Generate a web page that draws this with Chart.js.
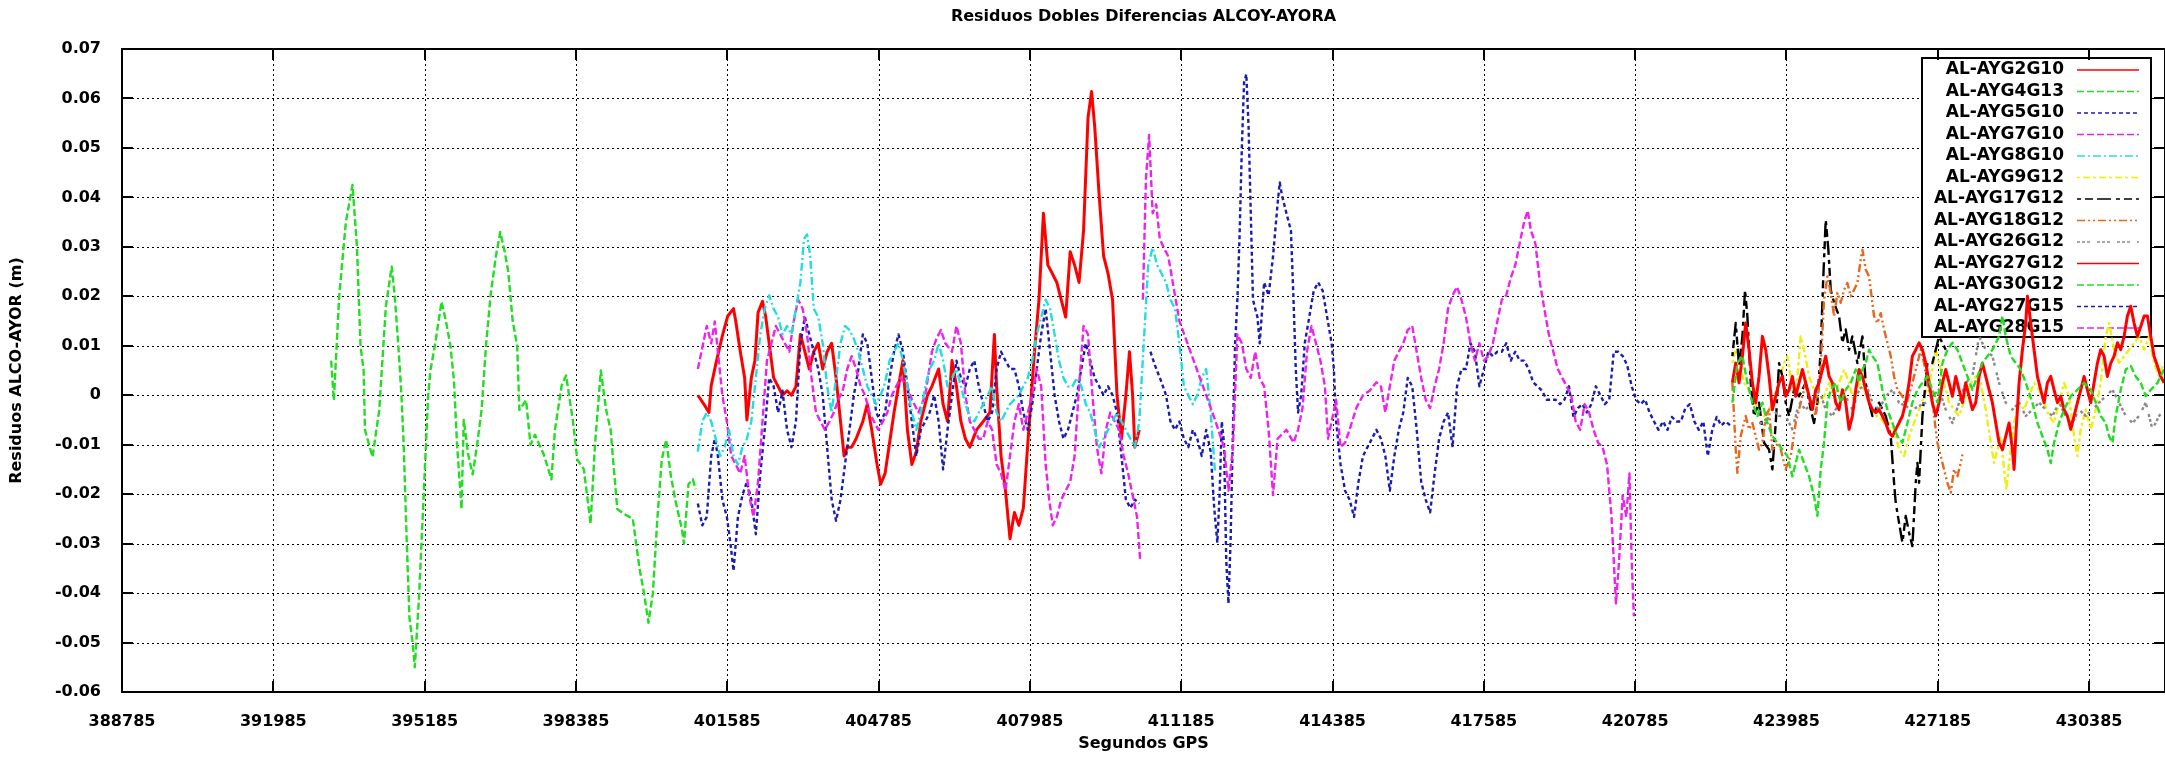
<!DOCTYPE html>
<html><head><meta charset="utf-8">
<script src="https://cdn.jsdelivr.net/npm/chart.js@4.4.1/dist/chart.umd.min.js"></script>
<style>html,body{margin:0;background:#fff}#wrap{width:2165px;height:763px;position:relative}</style>
</head><body><div id="wrap"><canvas id="c"></canvas></div>
<script>
/* residuos dobles diferencias — gnuplot look-alike */
const TITLE='Residuos Dobles Diferencias ALCOY-AYORA';
const X_TITLE='Segundos GPS', Y_TITLE='Residuos ALCO-AYOR (m)';
const X_TICKS=[388785,391985,395185,398385,401585,404785,407985,411185,414385,417585,420785,423985,427185,430385];
const Y_TICKS=[-0.06,-0.05,-0.04,-0.03,-0.02,-0.01,0,0.01,0.02,0.03,0.04,0.05,0.06,0.07];
const X_MIN=388785,X_MAX=431990,Y_MIN=-0.06,Y_MAX=0.07;
const LABELS=['AL-AYG2G10','AL-AYG4G13','AL-AYG5G10','AL-AYG7G10','AL-AYG8G10','AL-AYG9G12','AL-AYG17G12','AL-AYG18G12','AL-AYG26G12','AL-AYG27G12','AL-AYG30G12','AL-AYG27G15','AL-AYG28G15'];

// series, [seconds, residual m]
const g2g10=[[400963,0],[401104,-0.002],[401198,-0.0035],[401246,0.002],[401359,0.007],[401481,0.012],[401594,0.016],[401717,0.0175],[401764,0.015],[401858,0.009],[401953,0.0035],[402000,-0.005],[402094,0.0035],[402170,0.007],[402236,0.0167],[402330,0.019],[402396,0.016],[402471,0.0105],[402566,0.0035],[402660,0.0018],[402754,0],[402849,0.0009],[402943,0],[403037,0.0018],[403132,0.0123],[403226,0.0088],[403320,0.0053],[403414,0.0088],[403509,0.0105],[403603,0.0053],[403697,0.0088],[403792,0.0105],[403886,0.0035],[403980,-0.0053],[404056,-0.0123],[404122,-0.0105],[404216,-0.0105],[404310,-0.0088],[404452,-0.0053],[404546,-0.0018],[404640,-0.007],[404753,-0.014],[404829,-0.018],[404923,-0.0158],[405018,-0.0096],[405112,-0.0035],[405206,0.0018],[405300,0.007],[405395,-0.007],[405489,-0.014],[405583,-0.0114],[405678,-0.0053],[405819,0],[405913,0.0018],[406055,0.0053],[406149,-0.0018],[406243,-0.0053],[406338,0.007],[406432,0.0018],[406526,-0.0053],[406621,-0.0088],[406715,-0.0105],[406856,-0.007],[406998,-0.0053],[407139,-0.0035],[407234,0.0123],[407281,0.0018],[407375,-0.0123],[407469,-0.0193],[407564,-0.029],[407658,-0.0237],[407752,-0.0263],[407847,-0.0228],[407922,-0.0123],[407988,-0.0035],[408082,0.0088],[408177,0.0193],[408271,0.0368],[408365,0.0263],[408460,0.0246],[408554,0.0228],[408648,0.0193],[408742,0.0158],[408837,0.029],[408931,0.0263],[409025,0.0228],[409120,0.0333],[409214,0.0561],[409289,0.0614],[409355,0.0544],[409450,0.0404],[409544,0.0281],[409638,0.0246],[409733,0.0193],[409827,0],[409921,-0.0088],[410015,0],[410091,0.0088],[410157,0],[410204,-0.0105],[410298,-0.007]];
const g4g13=[[393208,0.007],[393265,-0.001],[393378,0.02],[393519,0.035],[393660,0.0425],[393754,0.03],[393829,0.01],[393895,0.005],[393923,-0.007],[394083,-0.0125],[394225,-0.003],[394366,0.018],[394488,0.026],[394554,0.02],[394629,0.01],[394695,0],[394742,-0.01],[394808,-0.03],[394864,-0.045],[394930,-0.05],[394977,-0.055],[395071,-0.04],[395118,-0.03],[395166,-0.02],[395213,-0.01],[395260,0],[395307,0.005],[395401,0.01],[395542,0.0189],[395636,0.015],[395730,0.01],[395805,0.003],[395871,-0.01],[395965,-0.023],[396012,-0.005],[396106,-0.012],[396201,-0.016],[396295,-0.01],[396389,-0.003],[396483,0.01],[396577,0.02],[396690,0.028],[396784,0.033],[396878,0.029],[396953,0.025],[397047,0.015],[397142,0.01],[397189,-0.003],[397330,-0.001],[397424,-0.01],[397518,-0.008],[397612,-0.01],[397706,-0.012],[397866,-0.017],[397941,-0.007],[398083,0.002],[398177,0.004],[398318,-0.005],[398412,-0.013],[398553,-0.015],[398694,-0.026],[398788,-0.01],[398911,0.005],[399024,-0.003],[399118,-0.007],[399259,-0.023],[399400,-0.024],[399588,-0.025],[399729,-0.035],[399824,-0.04],[399918,-0.046],[400012,-0.04],[400106,-0.025],[400200,-0.013],[400294,-0.009],[400388,-0.016],[400482,-0.021],[400623,-0.027],[400670,-0.03],[400764,-0.018],[400858,-0.017],[400915,-0.019]];
const g5g10=[[400963,-0.0219],[401057,-0.0263],[401151,-0.0246],[401246,-0.0123],[401321,-0.0088],[401387,-0.0123],[401481,-0.0211],[401576,-0.0246],[401651,-0.0298],[401717,-0.0355],[401811,-0.0246],[401906,-0.0202],[402000,-0.0175],[402094,-0.0211],[402189,-0.0281],[402283,-0.0158],[402377,-0.007],[402471,0.0035],[402566,0.0018],[402660,-0.0035],[402754,0.0009],[402849,-0.007],[402943,-0.0105],[403037,-0.0053],[403132,0.0105],[403226,0.0158],[403320,0.0123],[403414,0.0088],[403509,0.0053],[403603,0],[403697,-0.0105],[403792,-0.0211],[403886,-0.0254],[403980,-0.0211],[404075,-0.014],[404169,-0.007],[404263,0],[404357,0.0053],[404452,0.0123],[404546,0.0105],[404640,0.0035],[404735,-0.0035],[404829,-0.0053],[404923,-0.0035],[405018,0.0035],[405112,0.0088],[405206,0.0123],[405300,0.0088],[405395,0.0018],[405489,-0.0053],[405583,-0.0123],[405678,-0.007],[405772,-0.0053],[405866,-0.0035],[405961,0],[406055,-0.0053],[406149,-0.015],[406243,-0.007],[406338,0],[406432,0.007],[406526,0.0035],[406621,0.0018],[406715,0.0053],[406809,0.007],[406904,0.0018],[406998,-0.0018],[407092,-0.0053],[407186,-0.0035],[407281,0.0053],[407375,0.0088],[407469,0.007],[407564,0.0053],[407658,0.0053],[407752,0.0018],[407847,-0.0035],[407941,-0.007],[408035,-0.0018],[408130,0.0053],[408224,0.0123],[408318,0.0175],[408412,0.0088],[408507,0],[408601,-0.0053],[408695,-0.0088],[408790,-0.007],[408884,-0.0035],[408978,0],[409072,0.0053],[409167,0.0105],[409261,0.007],[409355,0.0035],[409450,0.0018],[409544,0],[409638,0.0018],[409733,0],[409827,-0.0035],[409921,-0.0123],[410015,-0.0211],[410110,-0.0228],[410204,-0.0211],[410298,-0.0219]];
const g7g10=[[400963,0.0053],[401076,0.0105],[401151,0.014],[401246,0.0105],[401321,0.0149],[401387,0.0088],[401481,0],[401576,-0.0053],[401670,-0.0123],[401764,-0.014],[401858,-0.0158],[401953,-0.0123],[402047,-0.0202],[402141,-0.0246],[402236,-0.0175],[402330,-0.0053],[402424,0.007],[402519,0.0105],[402613,0.014],[402707,0.0123],[402802,0.0105],[402896,0.0088],[402990,0.0149],[403085,0.0193],[403179,0.0175],[403273,0.0123],[403367,0.0035],[403462,-0.0035],[403556,-0.0053],[403650,-0.007],[403745,-0.0053],[403839,-0.0035],[403933,-0.0009],[404027,0.0009],[404122,0.0053],[404216,0.0079],[404310,0.0053],[404405,0.0018],[404499,0],[404593,-0.0035],[404687,-0.0053],[404782,-0.007],[404876,-0.0053],[404970,-0.0035],[405065,0],[405159,0.0018],[405253,0.0035],[405395,0.0018],[405489,-0.0009],[405630,-0.0035],[405772,0],[405913,0.0088],[406008,0.0114],[406102,0.0132],[406196,0.0105],[406338,0.0088],[406432,0.014],[406526,0.0105],[406621,0],[406715,-0.0053],[406809,-0.007],[406904,-0.0088],[406998,-0.0088],[407092,-0.0053],[407186,-0.007],[407281,-0.014],[407375,-0.0158],[407469,-0.0193],[407564,-0.0123],[407658,-0.0053],[407752,-0.0018],[407847,-0.007],[407941,-0.0035],[408035,0],[408130,0.0053],[408224,0.0018],[408318,-0.014],[408393,-0.0211],[408469,-0.0263],[408554,-0.0246],[408648,-0.0211],[408742,-0.0193],[408837,-0.0175],[408931,-0.0123],[409025,0.0018],[409120,0.014],[409214,0.0123],[409308,0],[409402,-0.0105],[409497,-0.0158],[409591,-0.007],[409685,-0.0035],[409780,-0.0053],[409874,-0.007],[409968,-0.0123],[410063,-0.0158],[410157,-0.0202],[410251,-0.0246],[410317,-0.0333]];
const g8g10=[[400963,-0.0114],[401057,-0.0053],[401151,-0.0035],[401246,-0.0053],[401340,-0.0088],[401434,-0.0123],[401528,-0.0105],[401623,-0.007],[401717,-0.0123],[401811,-0.014],[401906,-0.0105],[402000,-0.0088],[402094,-0.0053],[402189,0.0035],[402283,0.0123],[402377,0.0175],[402471,0.0202],[402566,0.0175],[402660,0.0158],[402754,0.0123],[402849,0.014],[402943,0.0123],[403037,0.0175],[403132,0.0228],[403207,0.0316],[403273,0.0325],[403339,0.0281],[403414,0.0175],[403509,0.0158],[403603,0.0105],[403697,0.0018],[403792,-0.0035],[403886,0.0035],[403980,0.0105],[404075,0.014],[404169,0.0132],[404263,0.0114],[404357,0.0088],[404452,0.0053],[404546,0.0018],[404640,0],[404735,-0.0018],[404829,0],[404923,0.0026],[405018,0.007],[405112,0.0088],[405206,0.0105],[405300,0.007],[405395,0.0018],[405489,-0.0035],[405583,-0.007],[405678,-0.0035],[405772,0.0018],[405866,0.0053],[405961,0.007],[406055,0.0105],[406149,0.007],[406243,0.0018],[406338,0.0035],[406432,0.0053],[406526,0.0018],[406621,-0.0018],[406715,-0.0044],[406809,-0.0053],[406904,-0.0035],[406998,-0.0018],[407092,0],[407186,0.0018],[407281,-0.0035],[407375,-0.0053],[407469,-0.0035],[407564,-0.0018],[407658,-0.0009],[407752,0],[407847,0.0018],[407941,0.0035],[408035,0.007],[408130,0.0123],[408224,0.0158],[408318,0.0193],[408412,0.0175],[408507,0.0123],[408601,0.007],[408695,0.0035],[408790,0.0018],[408884,0.0018],[408978,0.0035],[409072,0.0018],[409167,-0.0018],[409261,-0.0035],[409355,-0.007],[409450,-0.0105],[409544,-0.0088],[409638,-0.007],[409733,-0.0053],[409827,-0.0035],[409921,-0.0053],[410015,-0.007],[410110,-0.0088],[410204,-0.0105],[410298,-0.0053],[410393,0.0105],[410487,0.0263],[410581,0.0298],[410676,0.0263],[410770,0.0246],[410864,0.0228],[410958,0.0193],[411053,0.0175],[411147,0.0105],[411241,0.0018],[411336,0],[411430,-0.0018],[411524,0],[411619,0.0035],[411713,0.0053],[411808,-0.0035],[411901,-0.0158]];
const g9g12=[[422841,0.0065],[422912,0.0092],[422982,0.0079],[423088,0.0025],[423194,0.0011],[423299,-0.0015],[423405,-0.0029],[423511,-0.0042],[423617,-0.0029],[423722,-0.0002],[423828,0.0025],[423934,0.0065],[424004,0.0079],[424075,0.0038],[424181,-0.0002],[424286,0.0119],[424357,0.0092],[424463,0.0038],[424568,0.0011],[424674,-0.0015],[424780,-0.0002],[424886,0.0025],[424991,-0.0002],[425097,0.0025],[425203,0.0052],[425309,0.0025],[425414,-0.0015],[425520,0.0025],[425626,0.0011],[425732,-0.0015],[425837,-0.0042],[425943,-0.0042],[426049,-0.0056],[426155,-0.0056],[426260,-0.0069],[426366,-0.011],[426472,-0.0123],[426578,-0.0083],[426683,-0.0056],[426789,-0.0029],[426895,-0.0002],[427001,0.0025],[427071,0.0052],[427142,0.0092],[427212,0.0065],[427318,0.0025],[427424,-0.0015],[427529,-0.0029],[427635,-0.0042],[427776,-0.0002],[427882,0.0025],[427988,0.0038],[428093,0.0025],[428199,-0.0029],[428305,-0.0096],[428375,-0.0137],[428446,-0.011],[428516,-0.0083],[428587,-0.015],[428636,-0.0191],[428693,-0.0137],[428798,-0.0056],[428904,-0.0015],[429010,-0.0029],[429116,-0.0002],[429221,0.0025],[429327,0.0011],[429433,-0.0015],[429539,-0.0042],[429644,-0.0056],[429750,-0.0015],[429856,0.0025],[429962,-0.0002],[430067,-0.0083],[430138,-0.0123],[430208,-0.0069],[430314,-0.0029],[430420,-0.0069],[430526,-0.0029],[430631,0.0025],[430737,0.0119],[430808,0.0146],[430913,0.0092],[431019,0.0065],[431125,0.0079],[431231,0.0092],[431336,0.0106],[431442,0.0119],[431548,0.0092],[431654,0.0119],[431759,0.0065],[431865,0.0038],[431971,0.0065]];
const g17g12=[[422841,0.0079],[422912,0.0146],[422982,0.0059],[423053,0.0119],[423109,0.0213],[423158,0.016],[423229,0.0025],[423299,-0.0042],[423405,-0.0015],[423511,-0.0096],[423617,-0.011],[423687,-0.015],[423758,-0.0056],[423828,0.0065],[423899,0.0038],[423969,-0.0015],[424040,-0.0042],[424145,0.0011],[424251,-0.0002],[424392,0.0025],[424498,-0.0029],[424568,-0.0056],[424639,-0.0015],[424709,0.0092],[424759,0.0227],[424815,0.0355],[424871,0.0294],[424921,0.0213],[424991,0.0187],[425097,0.016],[425168,0.0106],[425238,0.0133],[425309,0.0092],[425379,0.0119],[425485,0.0065],[425591,0.0119],[425661,0.0025],[425732,-0.0015],[425802,-0.0042],[425943,-0.0015],[426084,-0.0042],[426190,-0.0083],[426260,-0.0177],[426296,-0.0218],[426366,-0.0258],[426437,-0.0298],[426507,-0.0244],[426578,-0.0278],[426648,-0.0305],[426719,-0.0177],[426754,-0.0137],[426789,-0.0177],[426860,-0.0042],[426965,0.0065],[427071,0.0065],[427142,0.0092],[427212,0.0119],[427353,0.0092]];
const g18g12=[[422841,0.0025],[422912,-0.011],[422947,-0.0157],[423017,-0.0083],[423123,-0.0042],[423194,-0.0069],[423264,-0.0056],[423335,-0.0083],[423405,-0.011],[423476,-0.0096],[423546,-0.0042],[423617,-0.0029],[423687,-0.011],[423828,-0.0096],[423969,-0.015],[424075,-0.0123],[424181,-0.0056],[424286,-0.0015],[424392,0.0025],[424498,-0.0015],[424604,-0.0042],[424709,0.0059],[424780,0.0193],[424850,0.024],[424921,0.0207],[424991,0.016],[425062,0.0207],[425132,0.0187],[425203,0.0213],[425273,0.0227],[425344,0.02],[425414,0.0213],[425485,0.0227],[425555,0.0274],[425591,0.0294],[425661,0.0254],[425732,0.024],[425767,0.0213],[425837,0.016],[425908,0.0146],[425978,0.0166],[426049,0.0133],[426119,0.0106],[426190,0.0079],[426260,0.0038],[426331,0.0011],[426437,-0.0002],[426507,-0.0022],[426648,0.0025],[426754,0.0065],[426824,0.0092],[426895,0.0065],[426965,0.0025],[427071,-0.0015],[427177,-0.0096],[427247,-0.0123],[427318,-0.015],[427388,-0.0177],[427459,-0.0197],[427529,-0.015],[427600,-0.0164],[427670,-0.0137],[427706,-0.012]];
const g26g12=[[423405,-0.0056],[423546,-0.0056],[423687,-0.0029],[423828,-0.0042],[423969,-0.0042],[424110,-0.0069],[424251,-0.0015],[424392,-0.0029],[424533,-0.0015],[424674,0.0011],[424815,-0.0029],[424956,-0.0042],[425097,-0.0015],[425238,-0.0002],[425379,-0.0029],[425520,0.0011],[425661,0.0025],[425802,-0.0015],[425943,-0.0029],[426084,-0.0002],[426225,0.0011],[426366,-0.0015],[426648,-0.0029],[426930,-0.0015],[427212,0.0011],[427353,-0.0029],[427494,-0.0056],[427635,-0.0015],[427776,0.0025],[427917,0.0038],[428058,0.0119],[428199,0.0092],[428340,0.0079],[428481,0.0025],[428622,-0.0015],[428763,-0.0029],[428904,-0.0015],[429045,-0.0042],[429186,-0.0029],[429327,-0.0015],[429468,-0.0029],[429609,-0.0042],[429750,-0.0015],[429891,-0.0042],[430032,-0.0056],[430173,-0.0029],[430314,-0.0042],[430455,-0.0029],[430596,-0.0015],[430737,-0.0002],[430878,0.0011],[431019,-0.0015],[431160,-0.0042],[431301,-0.0056],[431442,-0.0042],[431583,-0.0015],[431724,-0.0069],[431865,-0.0042],[431971,-0.0029]];
const g27g12=[[422841,0.0025],[422912,0.0065],[422982,0.0025],[423053,0.0079],[423123,0.0146],[423194,0.0092],[423264,0.0025],[423335,-0.0015],[423405,0.0038],[423476,0.0119],[423546,0.0092],[423617,0.0038],[423687,-0.0029],[423758,-0.0002],[423828,0.0025],[423899,0.0038],[423969,-0.0002],[424040,0.0011],[424110,0.0038],[424181,-0.0002],[424251,0.0025],[424322,0.0052],[424392,0.0025],[424463,-0.0002],[424533,-0.0029],[424604,0.0011],[424674,0.0025],[424745,0.0052],[424815,0.0079],[424886,0.0038],[424956,0.0025],[425027,-0.0015],[425097,-0.0029],[425168,0.0011],[425238,-0.0015],[425309,-0.0069],[425379,-0.0042],[425450,0.0011],[425520,0.0052],[425591,0.0038],[425661,0.0011],[425732,-0.0015],[425802,-0.0029],[425873,-0.0035],[425943,-0.0029],[426014,-0.0042],[426084,-0.0056],[426155,-0.0076],[426225,-0.0083],[426296,-0.0069],[426366,-0.0056],[426437,-0.0042],[426507,-0.0015],[426578,0.0025],[426648,0.0079],[426719,0.0092],[426789,0.0106],[426860,0.0092],[426930,0.0065],[427001,0.0025],[427071,-0.0015],[427142,-0.0042],[427212,-0.0015],[427283,0.0025],[427353,0.0052],[427424,0.0025],[427494,-0.0002],[427565,0.0038],[427635,0.0011],[427706,-0.0015],[427776,0.0025],[427847,-0.0002],[427917,-0.0029],[427988,-0.0015],[428058,0.0038],[428129,0.0065],[428199,0.0038],[428270,0.0011],[428340,-0.0015],[428411,-0.0056],[428481,-0.0096],[428552,-0.011],[428622,-0.0083],[428693,-0.0056],[428763,-0.011],[428798,-0.015],[428834,-0.0083],[428904,0.0025],[428975,0.0092],[429045,0.0146],[429080,0.02],[429151,0.0146],[429221,0.0092],[429292,0.0038],[429362,0.0011],[429433,-0.0015],[429503,0.0025],[429574,0.0038],[429644,0.0011],[429715,-0.0015],[429785,-0.0002],[429856,-0.0029],[429926,-0.0042],[429997,-0.0069],[430067,-0.0042],[430138,-0.0015],[430208,0.0011],[430279,0.0038],[430349,0.0011],[430420,-0.0015],[430490,0.0025],[430561,0.0065],[430631,0.0092],[430702,0.0079],[430772,0.0038],[430843,0.0065],[430913,0.0079],[430984,0.0106],[431054,0.0092],[431125,0.0119],[431195,0.016],[431266,0.018],[431336,0.0146],[431407,0.0119],[431477,0.0139],[431548,0.016],[431618,0.016],[431689,0.0119],[431759,0.0079],[431830,0.0059],[431900,0.0038],[431971,0.0025]];
const g30g12=[[422841,-0.0015],[422947,0.0065],[423053,0.0079],[423158,0.0025],[423264,-0.0015],[423370,-0.0042],[423476,-0.0015],[423581,-0.0056],[423687,-0.0083],[423793,-0.0096],[423899,-0.011],[424004,-0.0123],[424110,-0.0164],[424181,-0.0137],[424251,-0.011],[424357,-0.0137],[424463,-0.0164],[424568,-0.0204],[424639,-0.0244],[424709,-0.015],[424780,-0.0096],[424850,-0.0015],[424921,0.0011],[425027,0.0025],[425132,-0.0015],[425238,0.0011],[425344,0.0025],[425450,0.0052],[425520,0.0025],[425591,0.0052],[425661,0.0065],[425732,0.0092],[425802,0.0079],[425908,0.0065],[426014,0.0011],[426119,-0.0029],[426225,-0.0056],[426331,-0.0083],[426437,-0.0096],[426543,-0.0056],[426648,-0.0015],[426754,0.0011],[426860,0.0025],[426965,0.0038],[427071,0.0011],[427177,-0.0015],[427283,0.0065],[427388,0.0092],[427494,0.0106],[427600,0.0092],[427706,0.0065],[427811,0.0038],[427917,0.0011],[428023,0.0038],[428129,0.0065],[428235,0.0079],[428340,0.0092],[428481,0.0119],[428552,0.016],[428622,0.0119],[428728,0.0079],[428834,0.0065],[428939,0.0052],[429045,0.0025],[429186,-0.0015],[429292,-0.0056],[429398,-0.0083],[429503,-0.011],[429574,-0.0137],[429644,-0.0096],[429750,-0.0056],[429856,-0.0029],[429997,-0.0002],[430138,0.0011],[430279,0.0025],[430420,0.0011],[430526,-0.0015],[430631,-0.0042],[430737,-0.0056],[430808,-0.0083],[430878,-0.0096],[430948,-0.0042],[431054,0.0011],[431160,0.0052],[431266,0.0059],[431371,0.0038],[431477,0.0025],[431583,-0.0002],[431689,0.0011],[431830,0.0025],[431971,0.0052]];
const g27g15=[[410534,0.0088],[410628,0.0061],[410770,0.0026],[410864,0],[410958,-0.0053],[411053,-0.007],[411147,-0.0053],[411241,-0.0088],[411336,-0.0105],[411430,-0.007],[411524,-0.0088],[411619,-0.0123],[411713,-0.007],[411808,-0.0114],[411883,-0.0228],[411949,-0.0298],[411996,-0.0202],[412043,-0.0053],[412090,-0.0096],[412137,-0.0333],[412184,-0.0421],[412231,-0.0289],[412279,-0.007],[412326,0.0105],[412373,0.0193],[412420,0.0325],[412467,0.05],[412514,0.0632],[412562,0.0649],[412609,0.0544],[412656,0.0368],[412703,0.0193],[412750,0.0175],[412797,0.0158],[412844,0.0105],[412939,0.0228],[413033,0.0202],[413127,0.0281],[413222,0.0386],[413269,0.043],[413316,0.0404],[413410,0.0368],[413505,0.0333],[413560,0.0193],[413608,0.0053],[413656,-0.0035],[413722,0],[413798,0.0105],[413893,0.0158],[413987,0.0211],[414082,0.0228],[414177,0.0211],[414271,0.0158],[414366,0.0105],[414413,0.0053],[414461,-0.0053],[414555,-0.014],[414650,-0.0193],[414745,-0.0211],[414840,-0.0246],[414934,-0.0175],[415029,-0.0123],[415124,-0.0105],[415218,-0.0088],[415313,-0.007],[415408,-0.0088],[415502,-0.0123],[415597,-0.0193],[415692,-0.0123],[415787,-0.007],[415881,-0.0035],[415976,0.0035],[416071,0.0018],[416165,-0.007],[416260,-0.0175],[416355,-0.0211],[416449,-0.0237],[416544,-0.0158],[416639,-0.0088],[416734,-0.0053],[416828,-0.0035],[416923,-0.0105],[417018,0.0018],[417112,0.0053],[417207,0.0053],[417302,0.0105],[417396,0.0088],[417491,0.0018],[417586,0.0053],[417681,0.0088],[417775,0.0079],[417870,0.0088],[417965,0.0088],[418059,0.0105],[418154,0.007],[418249,0.0088],[418343,0.007],[418438,0.007],[418533,0.0053],[418628,0.0026],[418722,0.0018],[418817,0.0009],[418912,-0.0009],[419006,-0.0009],[419101,-0.0009],[419196,-0.0018],[419290,-0.0009],[419385,0.0018],[419480,-0.0044],[419575,-0.0026],[419669,-0.0018],[419764,-0.0035],[419859,-0.0018],[419953,0.0018],[420048,0],[420143,-0.0018],[420237,-0.0009],[420332,0.0088],[420427,0.0088],[420522,0.0079],[420616,0.0061],[420711,0.0018],[420806,-0.0009],[420900,-0.0018],[420995,-0.0009],[421090,-0.0035],[421184,-0.0053],[421279,-0.007],[421374,-0.0053],[421469,-0.007],[421563,-0.0044],[421658,-0.0053],[421753,-0.0053],[421847,-0.0026],[421942,-0.0018],[422037,-0.0053],[422131,-0.007],[422226,-0.0053],[422321,-0.0123],[422416,-0.007],[422510,-0.0044],[422605,-0.0061],[422700,-0.0053],[422795,-0.0061]];
const g28g15=[[410374,0.0193],[410440,0.0439],[410506,0.0526],[410581,0.0368],[410657,0.0386],[410732,0.0316],[410817,0.0298],[410911,0.0281],[411147,0.015],[411524,0.005],[411901,-0.005],[412090,-0.0105],[412184,-0.0193],[412279,-0.0105],[412373,0.0123],[412467,0.0105],[412562,0.0053],[412656,0.0035],[412750,0.0088],[412844,0.0035],[412939,0.0018],[413033,-0.007],[413127,-0.0202],[413222,-0.0088],[413410,-0.007],[413561,-0.0096],[413656,-0.007],[413750,-0.0026],[413845,0.0088],[413940,0.014],[414035,0.0105],[414129,0.007],[414224,0.0018],[414290,-0.0088],[414366,-0.0053],[414461,-0.0009],[414555,-0.0105],[414650,-0.0096],[414745,-0.007],[414887,-0.0026],[415029,0],[415171,0.0009],[415313,0.0026],[415408,0.0018],[415502,-0.0035],[415597,0.0018],[415692,0.007],[415787,0.0088],[415881,0.0105],[415976,0.0132],[416071,0.014],[416165,0.0088],[416260,0.0035],[416355,-0.0009],[416449,-0.0026],[416544,0.0018],[416639,0.0053],[416734,0.0105],[416828,0.0175],[416923,0.0202],[417018,0.0219],[417112,0.0193],[417207,0.0158],[417302,0.0105],[417396,0.007],[417491,0.0105],[417586,0.007],[417681,0.0079],[417775,0.0105],[417870,0.0149],[417965,0.0193],[418059,0.0202],[418154,0.0237],[418249,0.0263],[418343,0.0307],[418438,0.0351],[418514,0.0373],[418580,0.0333],[418675,0.0307],[418770,0.0228],[418864,0.0175],[418959,0.0123],[419054,0.0088],[419148,0.0053],[419243,0.0035],[419338,0.0018],[419432,0],[419527,-0.0053],[419622,-0.007],[419717,-0.0018],[419811,-0.0035],[419906,-0.007],[420001,-0.0096],[420095,-0.0105],[420190,-0.014],[420285,-0.0246],[420379,-0.0421],[420446,-0.0333],[420522,-0.0202],[420597,-0.0246],[420664,-0.0158],[420711,-0.0333],[420758,-0.0447]];
const SERIES=[g2g10,g4g13,g5g10,g7g10,g8g10,g9g12,g17g12,g18g12,g26g12,g27g12,g30g12,g27g15,g28g15];

const COLORS=['#ff0000','#22dd22','#1c1cb0','#ee22ee','#22dde0','#eeee10','#000000','#e8661e','#8a8a8a','#ff0000','#22dd22','#1c1cb0','#ee22ee'];
const DASHES=[[],[7,3],[4,3],[7,3],[8,3,2,3],[3,3,7,3],[4,4,8,4,14,5],[8,3,2,3,2,3],[3,2,3,2,3,7],[],[7,3],[4,3],[7,3]];
const FONT="'DejaVu Sans',sans-serif";

const frame={id:'frame',
  beforeDatasetsDraw(ch){
    const {ctx,chartArea:a,scales:{x,y}}=ch;
    ctx.save();
    // dotted grid
    ctx.strokeStyle='#000';ctx.lineWidth=1;ctx.setLineDash([2,3]);
    X_TICKS.forEach(v=>{const p=Math.round(x.getPixelForValue(v))+.5;if(p<a.left+3)return;ctx.beginPath();ctx.moveTo(p,a.top);ctx.lineTo(p,a.bottom);ctx.stroke();});
    Y_TICKS.forEach(v=>{const p=Math.round(y.getPixelForValue(v))+.5;if(p<a.top+3||p>a.bottom-3)return;ctx.beginPath();ctx.moveTo(a.left,p);ctx.lineTo(a.right,p);ctx.stroke();});
    // key
    const L=a.right-243,R=a.right-14,T=a.top+9,B=a.top+288;
    ctx.setLineDash([]);ctx.fillStyle='#fff';ctx.fillRect(L,T,R-L,B-T);
    ctx.lineWidth=2;ctx.strokeRect(L,T,R-L,B-T);
    ctx.font="bold 17px "+FONT;ctx.textAlign='right';ctx.textBaseline='middle';ctx.fillStyle='#000';
    ch.data.datasets.forEach((d,i)=>{
      const yy=T+12+i*21.5;
      ctx.fillText(d.label,R-87,yy);
      ctx.strokeStyle=d.borderColor;ctx.lineWidth=1.6;ctx.setLineDash(d.borderDash);
      ctx.beginPath();ctx.moveTo(R-74,yy);ctx.lineTo(R-12,yy);ctx.stroke();
    });
    ctx.restore();
  },
  afterDatasetsDraw(ch){
    const {ctx,chartArea:a,scales:{x,y}}=ch;
    ctx.save();ctx.strokeStyle='#000';ctx.setLineDash([]);ctx.lineWidth=2;
    const tl=11;
    ctx.beginPath();
    X_TICKS.forEach(v=>{const p=Math.round(x.getPixelForValue(v));ctx.moveTo(p,a.bottom);ctx.lineTo(p,a.bottom-tl);ctx.moveTo(p,a.top);ctx.lineTo(p,a.top+tl);});
    Y_TICKS.forEach(v=>{const p=Math.round(y.getPixelForValue(v));ctx.moveTo(a.left,p);ctx.lineTo(a.left+tl,p);ctx.moveTo(a.right,p);ctx.lineTo(a.right-tl,p);});
    ctx.stroke();
    ctx.strokeRect(a.left,a.top,a.right-a.left,a.bottom-a.top);
    ctx.restore();
  }
};

new Chart(document.getElementById('c'),{
  type:'scatter',
  data:{datasets:SERIES.map((s,i)=>({label:LABELS[i],data:s.map(([px,py])=>({x:px,y:py})),showLine:true,borderColor:COLORS[i],backgroundColor:COLORS[i],borderWidth:(i===0||i===9)?3:2.4,borderDash:DASHES[i],borderJoinStyle:'round',pointRadius:0,order:SERIES.length-i}))},
  options:{
    responsive:true,maintainAspectRatio:false,animation:false,devicePixelRatio:1,
    layout:{autoPadding:false,padding:{left:0,right:-1,top:0,bottom:0}},
    plugins:{
      legend:{display:false},tooltip:{enabled:false},
      title:{display:true,text:TITLE,fullSize:false,color:'#000',font:{family:FONT,size:16,weight:'bold'},padding:{top:7,bottom:22.8}}
    },
    scales:{
      x:{type:'linear',min:X_MIN,max:X_MAX,
        afterBuildTicks:s=>{s.ticks=X_TICKS.map(v=>({value:v}));},
        afterFit:s=>{s.height=71;},
        ticks:{color:'#000',font:{family:FONT,size:16,weight:'bold'},maxRotation:0,autoSkip:false,padding:12,callback:v=>String(v)},
        grid:{display:false},border:{display:false},
        title:{display:true,text:X_TITLE,color:'#000',font:{family:FONT,size:16,weight:'bold'},padding:{top:0,bottom:10}}},
      y:{min:Y_MIN,max:Y_MAX,
        afterBuildTicks:s=>{s.ticks=Y_TICKS.map(v=>({value:v}));},
        afterFit:s=>{s.width=122;},
        ticks:{color:'#000',font:{family:FONT,size:16,weight:'bold'},padding:13,callback:v=>Math.abs(v)<1e-9?'0':v.toFixed(2)},
        grid:{display:false},border:{display:false},
        title:{display:true,text:Y_TITLE,color:'#000',font:{family:FONT,size:16,weight:'bold'},padding:{top:7,bottom:0}}}
    }
  },
  plugins:[frame]
});
</script></body></html>
